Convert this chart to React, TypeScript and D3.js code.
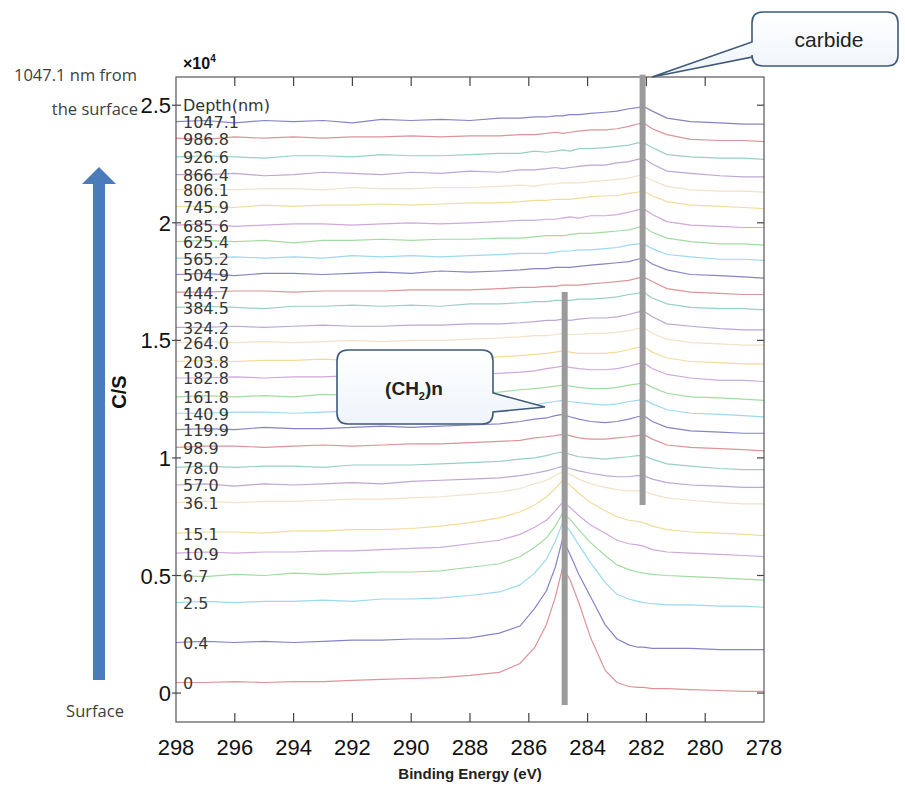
import React from 'react';
import * as d3 from 'd3';

// Binding energy grid (eV) shared by every spectrum
const energies = [298, 297, 296, 295, 294, 293, 292, 291, 290, 289, 288, 287, 286.3, 285.8, 285.4, 285.1, 284.85, 284.6, 284.3, 283.9, 283.4, 283, 282.6, 282.3, 282.1, 281.8, 281.3, 280.5, 279.5, 278.7, 278];

// C/S values (x10^4) for each depth (nm)
const d1047_1 = [2.430, 2.435, 2.425, 2.435, 2.430, 2.435, 2.425, 2.440, 2.435, 2.440, 2.435, 2.445, 2.445, 2.450, 2.450, 2.455, 2.455, 2.460, 2.460, 2.465, 2.470, 2.475, 2.485, 2.490, 2.495, 2.475, 2.445, 2.430, 2.425, 2.420, 2.420];
const d986_8 = [2.360, 2.355, 2.365, 2.360, 2.365, 2.360, 2.365, 2.365, 2.370, 2.365, 2.370, 2.370, 2.375, 2.375, 2.380, 2.385, 2.380, 2.385, 2.390, 2.395, 2.395, 2.400, 2.410, 2.420, 2.425, 2.400, 2.375, 2.355, 2.350, 2.350, 2.345];
const d926_6 = [2.280, 2.285, 2.280, 2.275, 2.285, 2.285, 2.280, 2.290, 2.285, 2.285, 2.290, 2.295, 2.295, 2.305, 2.300, 2.305, 2.310, 2.305, 2.315, 2.315, 2.320, 2.325, 2.330, 2.340, 2.340, 2.320, 2.290, 2.280, 2.275, 2.275, 2.270];
const d866_4 = [2.205, 2.205, 2.210, 2.200, 2.205, 2.215, 2.210, 2.205, 2.215, 2.210, 2.220, 2.215, 2.225, 2.225, 2.230, 2.235, 2.230, 2.235, 2.240, 2.245, 2.245, 2.255, 2.260, 2.270, 2.275, 2.250, 2.220, 2.210, 2.200, 2.195, 2.195];
const d806_1 = [2.140, 2.145, 2.140, 2.145, 2.145, 2.140, 2.150, 2.145, 2.145, 2.150, 2.150, 2.155, 2.160, 2.155, 2.165, 2.165, 2.170, 2.170, 2.170, 2.175, 2.180, 2.185, 2.190, 2.200, 2.200, 2.180, 2.155, 2.140, 2.135, 2.135, 2.130];
const d745_9 = [2.070, 2.070, 2.065, 2.075, 2.070, 2.075, 2.075, 2.080, 2.075, 2.080, 2.085, 2.085, 2.090, 2.095, 2.095, 2.100, 2.100, 2.100, 2.105, 2.110, 2.115, 2.115, 2.125, 2.130, 2.135, 2.115, 2.090, 2.075, 2.070, 2.065, 2.060];
const d685_6 = [1.990, 1.995, 1.985, 1.990, 1.995, 1.995, 1.990, 1.995, 2.000, 1.995, 2.000, 2.005, 2.010, 2.010, 2.015, 2.015, 2.020, 2.025, 2.020, 2.030, 2.030, 2.035, 2.045, 2.055, 2.060, 2.035, 2.005, 1.990, 1.985, 1.980, 1.980];
const d625_4 = [1.920, 1.925, 1.920, 1.925, 1.915, 1.925, 1.925, 1.930, 1.925, 1.930, 1.930, 1.935, 1.935, 1.940, 1.945, 1.945, 1.945, 1.950, 1.955, 1.955, 1.960, 1.965, 1.970, 1.980, 1.985, 1.960, 1.935, 1.920, 1.910, 1.910, 1.905];
const d565_2 = [1.850, 1.850, 1.855, 1.850, 1.855, 1.850, 1.860, 1.855, 1.860, 1.855, 1.860, 1.865, 1.870, 1.870, 1.870, 1.875, 1.880, 1.880, 1.885, 1.885, 1.890, 1.895, 1.905, 1.910, 1.910, 1.890, 1.865, 1.855, 1.845, 1.845, 1.840];
const d504_9 = [1.780, 1.785, 1.775, 1.785, 1.785, 1.780, 1.785, 1.790, 1.785, 1.795, 1.790, 1.795, 1.800, 1.805, 1.805, 1.810, 1.810, 1.810, 1.815, 1.820, 1.825, 1.830, 1.835, 1.845, 1.850, 1.825, 1.800, 1.780, 1.775, 1.770, 1.765];
const d444_7 = [1.705, 1.705, 1.710, 1.710, 1.705, 1.710, 1.710, 1.710, 1.715, 1.715, 1.715, 1.720, 1.725, 1.725, 1.730, 1.730, 1.735, 1.735, 1.735, 1.740, 1.745, 1.750, 1.755, 1.765, 1.770, 1.750, 1.720, 1.705, 1.700, 1.695, 1.695];
const d384_5 = [1.640, 1.645, 1.640, 1.635, 1.645, 1.645, 1.650, 1.645, 1.650, 1.645, 1.655, 1.655, 1.660, 1.665, 1.665, 1.670, 1.670, 1.670, 1.675, 1.675, 1.680, 1.685, 1.695, 1.700, 1.705, 1.680, 1.655, 1.640, 1.635, 1.635, 1.630];
const d324_2 = [1.555, 1.555, 1.560, 1.555, 1.560, 1.565, 1.560, 1.560, 1.565, 1.565, 1.570, 1.570, 1.575, 1.580, 1.585, 1.585, 1.590, 1.585, 1.590, 1.595, 1.595, 1.600, 1.610, 1.620, 1.625, 1.600, 1.570, 1.560, 1.550, 1.545, 1.545];
const d264_0 = [1.490, 1.495, 1.490, 1.495, 1.490, 1.495, 1.500, 1.495, 1.500, 1.500, 1.505, 1.510, 1.515, 1.520, 1.520, 1.525, 1.530, 1.525, 1.525, 1.530, 1.530, 1.535, 1.540, 1.550, 1.555, 1.530, 1.505, 1.490, 1.485, 1.480, 1.480];
const d203_8 = [1.410, 1.415, 1.410, 1.415, 1.415, 1.420, 1.415, 1.420, 1.420, 1.425, 1.425, 1.430, 1.435, 1.440, 1.445, 1.450, 1.455, 1.450, 1.445, 1.445, 1.445, 1.450, 1.460, 1.470, 1.475, 1.450, 1.425, 1.410, 1.405, 1.400, 1.400];
const d182_8 = [1.340, 1.340, 1.345, 1.340, 1.345, 1.345, 1.350, 1.345, 1.350, 1.350, 1.355, 1.360, 1.365, 1.370, 1.380, 1.385, 1.390, 1.385, 1.380, 1.375, 1.375, 1.380, 1.390, 1.400, 1.405, 1.380, 1.355, 1.340, 1.330, 1.330, 1.325];
const d161_8 = [1.260, 1.265, 1.260, 1.265, 1.260, 1.270, 1.265, 1.270, 1.270, 1.275, 1.275, 1.280, 1.290, 1.295, 1.300, 1.305, 1.310, 1.305, 1.300, 1.295, 1.295, 1.300, 1.310, 1.315, 1.320, 1.300, 1.275, 1.260, 1.255, 1.250, 1.245];
const d140_9 = [1.190, 1.190, 1.195, 1.195, 1.190, 1.195, 1.200, 1.200, 1.200, 1.205, 1.210, 1.215, 1.220, 1.225, 1.235, 1.240, 1.245, 1.240, 1.235, 1.230, 1.225, 1.230, 1.240, 1.245, 1.250, 1.230, 1.205, 1.190, 1.185, 1.180, 1.175];
const d119_9 = [1.120, 1.125, 1.120, 1.130, 1.125, 1.125, 1.130, 1.135, 1.130, 1.135, 1.140, 1.145, 1.155, 1.165, 1.170, 1.180, 1.185, 1.175, 1.165, 1.155, 1.150, 1.155, 1.165, 1.175, 1.180, 1.155, 1.130, 1.115, 1.110, 1.105, 1.105];
const d98_9 = [1.045, 1.050, 1.050, 1.045, 1.050, 1.055, 1.050, 1.055, 1.060, 1.060, 1.065, 1.070, 1.075, 1.085, 1.090, 1.095, 1.100, 1.095, 1.085, 1.080, 1.080, 1.085, 1.090, 1.095, 1.100, 1.080, 1.055, 1.045, 1.040, 1.035, 1.030];
const d78_0 = [0.960, 0.965, 0.960, 0.965, 0.965, 0.960, 0.970, 0.970, 0.970, 0.975, 0.980, 0.985, 0.995, 1.000, 1.010, 1.020, 1.025, 1.015, 1.005, 1.000, 0.995, 1.000, 1.005, 1.010, 1.010, 0.995, 0.975, 0.965, 0.955, 0.950, 0.950];
const d57_0 = [0.885, 0.890, 0.880, 0.890, 0.885, 0.890, 0.895, 0.890, 0.900, 0.905, 0.910, 0.915, 0.925, 0.935, 0.945, 0.955, 0.965, 0.955, 0.945, 0.935, 0.925, 0.920, 0.920, 0.925, 0.925, 0.910, 0.895, 0.885, 0.880, 0.875, 0.875];
const d36_1 = [0.810, 0.815, 0.810, 0.815, 0.815, 0.820, 0.825, 0.825, 0.830, 0.835, 0.845, 0.855, 0.870, 0.890, 0.905, 0.925, 0.940, 0.930, 0.910, 0.890, 0.875, 0.865, 0.860, 0.860, 0.860, 0.845, 0.830, 0.820, 0.810, 0.805, 0.805];
const d15_1 = [0.680, 0.685, 0.685, 0.680, 0.690, 0.690, 0.695, 0.695, 0.700, 0.710, 0.725, 0.745, 0.770, 0.800, 0.835, 0.870, 0.905, 0.885, 0.850, 0.810, 0.775, 0.750, 0.735, 0.730, 0.725, 0.710, 0.695, 0.685, 0.680, 0.675, 0.670];
const d10_9 = [0.595, 0.600, 0.595, 0.600, 0.600, 0.605, 0.605, 0.610, 0.615, 0.620, 0.635, 0.650, 0.675, 0.705, 0.735, 0.775, 0.810, 0.790, 0.755, 0.715, 0.680, 0.650, 0.635, 0.630, 0.625, 0.610, 0.600, 0.595, 0.590, 0.585, 0.580];
const d6_7 = [0.500, 0.495, 0.505, 0.500, 0.510, 0.505, 0.510, 0.515, 0.515, 0.520, 0.535, 0.550, 0.580, 0.620, 0.660, 0.710, 0.765, 0.740, 0.695, 0.640, 0.585, 0.545, 0.525, 0.515, 0.510, 0.505, 0.500, 0.495, 0.490, 0.485, 0.480];
const d2_5 = [0.385, 0.390, 0.385, 0.390, 0.390, 0.395, 0.390, 0.400, 0.400, 0.405, 0.415, 0.430, 0.460, 0.510, 0.570, 0.645, 0.725, 0.690, 0.630, 0.555, 0.470, 0.420, 0.400, 0.390, 0.385, 0.380, 0.375, 0.375, 0.370, 0.370, 0.365];
const d0_4 = [0.215, 0.220, 0.215, 0.220, 0.215, 0.220, 0.225, 0.225, 0.230, 0.230, 0.235, 0.255, 0.285, 0.360, 0.435, 0.535, 0.655, 0.590, 0.505, 0.410, 0.290, 0.230, 0.205, 0.195, 0.195, 0.190, 0.190, 0.190, 0.185, 0.185, 0.185];
const d0 = [0.045, 0.045, 0.049, 0.045, 0.049, 0.049, 0.054, 0.058, 0.062, 0.066, 0.075, 0.088, 0.126, 0.194, 0.292, 0.407, 0.534, 0.483, 0.385, 0.236, 0.096, 0.045, 0.028, 0.024, 0.024, 0.019, 0.019, 0.015, 0.011, 0.007, 0.007];

const depthLabels = ['1047.1', '986.8', '926.6', '866.4', '806.1', '745.9', '685.6', '625.4', '565.2', '504.9', '444.7', '384.5', '324.2', '264.0', '203.8', '182.8', '161.8', '140.9', '119.9', '98.9', '78.0', '57.0', '36.1', '15.1', '10.9', '6.7', '2.5', '0.4', '0'];
const spectra = [d1047_1, d986_8, d926_6, d866_4, d806_1, d745_9, d685_6, d625_4, d565_2, d504_9, d444_7, d384_5, d324_2, d264_0, d203_8, d182_8, d161_8, d140_9, d119_9, d98_9, d78_0, d57_0, d36_1, d15_1, d10_9, d6_7, d2_5, d0_4, d0];

// Colour cycle (faded)
const palette = ['#8585c6', '#dc9498', '#98d0c8', '#bea6d2', '#f2e2c8', '#f2dc9c', '#cfa8dc', '#a2dca2', '#9cd9f0'];

const xTicks = [298, 296, 294, 292, 290, 288, 286, 284, 282, 280, 278];
const yTicks = [0, 0.5, 1, 1.5, 2, 2.5];

// Reference bars (eV, C/S x10^4 extent)
const barEnergy = [284.78, 282.13];
const barTop = [1.706, 2.63];
const barBottom = [-0.051, 0.8];

function calloutPath(x0: number, y0: number, x1: number, y1: number, r: number, side: 'left' | 'right', a: number, b: number, tx: number, ty: number) {
  let p = `M${x0 + r},${y0} L${x1 - r},${y0} Q${x1},${y0} ${x1},${y0 + r} `;
  if (side === 'right') p += `L${x1},${a} L${tx},${ty} L${x1},${b} `;
  p += `L${x1},${y1 - r} Q${x1},${y1} ${x1 - r},${y1} L${x0 + r},${y1} Q${x0},${y1} ${x0},${y1 - r} `;
  if (side === 'left') p += `L${x0},${b} L${tx},${ty} L${x0},${a} `;
  p += `L${x0},${y0 + r} Q${x0},${y0} ${x0 + r},${y0} Z`;
  return p;
}

export default function App() {
  const x = d3.scaleLinear().domain([298, 278]).range([176, 764]);
  const y = d3.scaleLinear().domain([-0.123, 2.62]).range([722, 77]);
  const line = d3.line<number>().x((_, i) => x(energies[i])).y((d) => y(d));
  const axisFont = '"Liberation Sans", Arial, Helvetica, sans-serif';
  const labelFont = '"DejaVu Sans", Verdana, sans-serif';
  const noteFont = '"Open Sans", "Noto Sans", sans-serif';

  return (
    <svg width={905} height={786} style={{ position: 'absolute', left: 0, top: 0, background: '#fff' }}>
      <defs>
        <linearGradient id="cg" x1="0" y1="0" x2="0" y2="1">
          <stop offset="0" stopColor="#ffffff" />
          <stop offset="1" stopColor="#eef4fa" />
        </linearGradient>
      </defs>
      <rect x={0} y={0} width={905} height={786} fill="#fff" />

      {/* spectra */}
      {spectra.map((s, i) => (
        <path key={i} d={line(s) || ''} fill="none" stroke={palette[i % 9]} strokeWidth={1.2} />
      ))}

      {/* depth labels */}
      <text x={183} y={y(2.5)} dominantBaseline="central" fontFamily={labelFont} fontSize={16} fill="#333">Depth(nm)</text>
      {spectra.map((s, i) => (
        <text key={i} x={183} y={y(s[0]) + 1} dominantBaseline="central" fontFamily={labelFont} fontSize={16} fill="#383838">{depthLabels[i]}</text>
      ))}

      {/* frame */}
      <rect x={176} y={77} width={588} height={645} fill="none" stroke="#555" strokeWidth={1.2} />
      {xTicks.slice(1, -1).map((t) => (
        <g key={t}>
          <line x1={x(t)} x2={x(t)} y1={722} y2={713} stroke="#444" strokeWidth={1.2} />
          <line x1={x(t)} x2={x(t)} y1={77} y2={86} stroke="#444" strokeWidth={1.2} />
        </g>
      ))}
      {yTicks.map((t) => (
        <g key={t}>
          <line x1={172} x2={181} y1={y(t)} y2={y(t)} stroke="#444" strokeWidth={1.2} />
          <line x1={764} x2={757} y1={y(t)} y2={y(t)} stroke="#444" strokeWidth={1.2} />
        </g>
      ))}
      {xTicks.map((t) => (
        <text key={t} x={x(t)} y={755} textAnchor="middle" fontFamily={axisFont} fontSize={22} fill="#111">{t}</text>
      ))}
      {yTicks.map((t) => (
        <text key={t} x={171} y={y(t) + 8} textAnchor="end" fontFamily={axisFont} fontSize={22} fill="#111">{String(t)}</text>
      ))}
      <text x={183} y={69} fontFamily={axisFont} fontSize={16} fontWeight="bold" fill="#111">×10<tspan fontSize={10} dy={-7}>4</tspan></text>
      <text x={470} y={779} textAnchor="middle" fontFamily={axisFont} fontSize={15} fontWeight="bold" fill="#222">Binding Energy (eV)</text>
      <text transform="translate(126,392) rotate(-90)" textAnchor="middle" fontFamily={axisFont} fontSize={20} fontWeight="bold" fill="#111">C/S</text>

      {/* reference bars */}
      {barEnergy.map((e, i) => (
        <rect key={i} x={x(e) - 3} y={y(barTop[i])} width={6} height={y(barBottom[i]) - y(barTop[i])} fill="#9b9b9b" />
      ))}

      {/* callouts */}
      <path d={calloutPath(337, 350, 493, 424, 11, 'right', 393, 412, 545, 407)} fill="url(#cg)" stroke="#3f5a7a" strokeWidth={1.6} />
      <text x={414} y={395} textAnchor="middle" fontFamily={axisFont} fontSize={19} fontWeight="bold" fill="#222">(CH<tspan fontSize={11} dy={5}>2</tspan><tspan dy={-5}>)n</tspan></text>
      <path d={calloutPath(752, 12, 898, 66, 11, 'left', 42, 57, 652, 77)} fill="url(#cg)" stroke="#3f5a7a" strokeWidth={1.6} />
      <text x={829} y={47} textAnchor="middle" fontFamily={axisFont} fontSize={21} fill="#222">carbide</text>

      {/* depth arrow & notes */}
      <rect x={93} y={182} width={12} height={498} fill="#4a7cbc" />
      <polygon points="82,184 116,184 99,167" fill="#4a7cbc" />
      <text x={14} y={81} fontFamily={noteFont} fontSize={16.5} fill="#404040">1047.1 nm from</text>
      <text x={138} y={115} textAnchor="end" fontFamily={noteFont} fontSize={16.5} fill="#404040">the surface</text>
      <text x={95} y={717} textAnchor="middle" fontFamily={noteFont} fontSize={16.5} fill="#404040">Surface</text>
    </svg>
  );
}
